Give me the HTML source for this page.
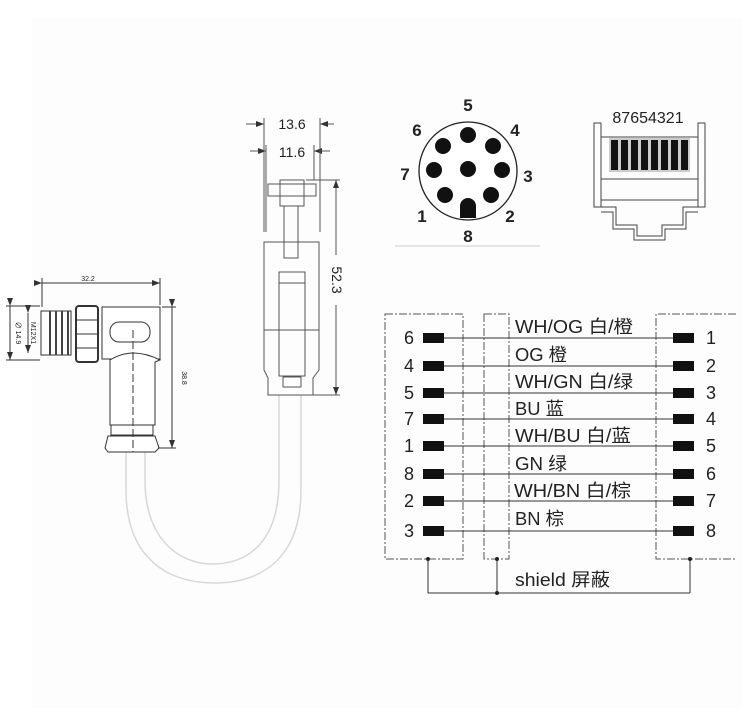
<!DOCTYPE html>
<html><head><meta charset="utf-8"><style>
html,body{margin:0;padding:0;background:#fff;}
svg{display:block;}
text{font-family:"Liberation Sans","Noto Sans CJK SC",sans-serif;fill:#222;}
</style></head><body>
<svg width="754" height="719" viewBox="0 0 754 719" xmlns="http://www.w3.org/2000/svg">
<defs>
<marker id="ar" markerWidth="8" markerHeight="6" refX="8" refY="3" orient="auto" markerUnits="userSpaceOnUse"><path d="M0 0 L8 3 L0 6 Z" fill="#333"/></marker>
</defs>
<rect x="32" y="18" width="710" height="690" fill="#fdfdfd"/>
<!-- cable loop -->
<g fill="none" stroke="#d8d8d8" stroke-width="1.5">
<path d="M126 450 L126 490 C126 560 170 583 214 583 C260 583 301 560 301 490 L301 395"/>
<path d="M145 450 L145 480 C145 540 180 564 212 564 C250 564 279 540 279 480 L279 395"/>
</g>
<!-- left connector -->
<g fill="none" stroke="#333" stroke-width="1">
<line x1="42" y1="283" x2="160" y2="283" marker-end="url(#ar)" marker-start="url(#ar)"/><line x1="42" y1="278" x2="42" y2="307"/><line x1="160" y1="278" x2="160" y2="305"/>
<rect x="41" y="311" width="30" height="44" fill="#fff"/>
<g stroke="#444" stroke-width="2"><line x1="50" y1="311" x2="50" y2="355"/><line x1="56" y1="311" x2="56" y2="355"/><line x1="62" y1="311" x2="62" y2="355"/><line x1="68" y1="311" x2="68" y2="355"/></g>
<rect x="76" y="306" width="22" height="56" rx="3" fill="#fff" stroke-width="2"/>
<line x1="76" y1="320" x2="98" y2="320"/><line x1="76" y1="334" x2="98" y2="334"/><line x1="76" y1="348" x2="98" y2="348"/>
<rect x="102" y="307" width="58" height="52" fill="#fff"/>
<rect x="110" y="322" width="40" height="20" rx="9"/>
<path d="M110 360 Q132 346 160 360 L155 362 L155 425 L110 425 Z" fill="#fff"/>
<rect x="111" y="425" width="42" height="10"/>
<path d="M108 436 L155 436 L159 448 L155 452 L108 452 L105 448 Z" fill="#fff"/>
<line x1="133" y1="330" x2="133" y2="452" stroke-dasharray="8 3"/>
<line x1="172" y1="307" x2="172" y2="448" marker-end="url(#ar)" marker-start="url(#ar)"/><line x1="162" y1="307" x2="176" y2="307"/><line x1="158" y1="448" x2="176" y2="448"/>
<line x1="10" y1="306" x2="10" y2="360" marker-end="url(#ar)" marker-start="url(#ar)"/><line x1="6" y1="306" x2="40" y2="306"/><line x1="6" y1="360" x2="40" y2="360"/>
<line x1="28" y1="313" x2="28" y2="353" marker-end="url(#ar)" marker-start="url(#ar)"/>
</g>
<text x="88" y="281" font-size="7" text-anchor="middle">32.2</text>
<text transform="translate(182,378) rotate(90)" font-size="7" text-anchor="middle">38.8</text>
<text transform="translate(16,333) rotate(90)" font-size="7" text-anchor="middle">∅ 14.9</text>
<text transform="translate(31,333) rotate(90)" font-size="7" text-anchor="middle">M12X1</text>
<!-- right connector RJ45 side view -->
<g fill="none" stroke="#555" stroke-width="1">
<line x1="246" y1="124" x2="264" y2="124" marker-end="url(#ar)"/><line x1="334" y1="124" x2="320" y2="124" marker-end="url(#ar)"/>
<line x1="250" y1="151" x2="266" y2="151" marker-end="url(#ar)"/><line x1="330" y1="151" x2="314" y2="151" marker-end="url(#ar)"/>
<line x1="264" y1="118" x2="264" y2="232"/><line x1="320" y1="118" x2="320" y2="232"/>
<line x1="266" y1="145" x2="266" y2="232"/><line x1="314" y1="145" x2="314" y2="180"/>
<rect x="268" y="184" width="48" height="12"/><rect x="280" y="180" width="24" height="26"/>
<rect x="284" y="206" width="14" height="52"/>
<path d="M266 242 L319 242 L319 370 L313 378 L313 395 L268 395 L268 378 L264 370 L264 242 Z"/>
<rect x="279" y="272" width="26" height="104"/>
<line x1="279" y1="283" x2="305" y2="283"/>
<line x1="264" y1="330" x2="319" y2="330"/>
<rect x="283" y="377" width="18" height="10"/>
<line x1="306" y1="180" x2="340" y2="180"/><line x1="310" y1="395" x2="340" y2="395"/>
<line x1="336" y1="255" x2="336" y2="180" marker-end="url(#ar)"/><line x1="336" y1="305" x2="336" y2="395" marker-end="url(#ar)"/>
</g>
<text x="292" y="129" font-size="14" text-anchor="middle">13.6</text>
<text x="292" y="157" font-size="14" text-anchor="middle">11.6</text>
<text transform="translate(332,280) rotate(90)" font-size="14" text-anchor="middle">52.3</text>
<!-- M12 face -->
<circle cx="468" cy="171" r="49" fill="#fff" stroke="#222" stroke-width="1.3"/>
<g fill="#111">
<circle cx="468" cy="135" r="8"/><circle cx="443" cy="146" r="8"/><circle cx="493" cy="146" r="8"/>
<circle cx="434" cy="170" r="8"/><circle cx="468" cy="169" r="8"/><circle cx="502" cy="170" r="8"/>
<circle cx="445" cy="195" r="8"/><circle cx="491" cy="195" r="8"/>
<path d="M460 218 L460 206 A8 8 0 0 1 476 206 L476 218 Z"/>
</g>
<g font-size="17" font-weight="bold" text-anchor="middle">
<text x="468" y="111">5</text><text x="417" y="136">6</text><text x="515" y="136">4</text>
<text x="405" y="180">7</text><text x="528" y="182">3</text>
<text x="422" y="222">1</text><text x="510" y="222">2</text><text x="468" y="242">8</text>
</g>
<line x1="395" y1="246" x2="540" y2="246" stroke="#e4e4e4" stroke-width="2"/>
<!-- RJ45 face -->
<text x="648" y="123" font-size="16" text-anchor="middle">87654321</text>
<g fill="none" stroke="#444" stroke-width="1">
<path d="M594 123 L601 123 L601 207 L594 207 Z"/><path d="M698 123 L705 123 L705 207 L698 207 Z"/>
<line x1="601" y1="137" x2="698" y2="137"/><line x1="601" y1="179" x2="698" y2="179"/><line x1="601" y1="200" x2="698" y2="200"/>
<path d="M594 207 L616 207 L616 225 L637 225 L637 236 L662 236 L662 225 L683 225 L683 207 L705 207"/>
<path d="M601 212 L613 212 L613 229 L634 229 L634 240 L665 240 L665 229 L686 229 L686 212 L698 212"/>
</g>
<rect x="609" y="138" width="81" height="34" fill="#ccc"/>
<g fill="#111">
<rect x="611" y="140" width="7" height="30"/><rect x="621" y="140" width="7" height="30"/><rect x="631" y="140" width="7" height="30"/><rect x="641" y="140" width="7" height="30"/>
<rect x="651" y="140" width="7" height="30"/><rect x="661" y="140" width="7" height="30"/><rect x="671" y="140" width="7" height="30"/><rect x="681" y="140" width="7" height="30"/>
</g>
<!-- wiring -->
<g fill="none" stroke="#555" stroke-width="1" stroke-dasharray="8 2 2 2">
<rect x="385" y="314" width="78" height="245"/>
<rect x="484" y="314" width="25" height="245"/>
<path d="M736 314 L656 314 L656 559 L736 559"/>
</g>
<g stroke="#333" stroke-width="1" fill="none">
<line x1="428" y1="559" x2="428" y2="593"/><line x1="497" y1="559" x2="497" y2="593"/><line x1="690" y1="559" x2="690" y2="593"/>
<line x1="428" y1="593" x2="690" y2="593"/>
</g>
<g fill="#222"><circle cx="428" cy="559" r="2"/><circle cx="497" cy="559" r="2"/><circle cx="690" cy="559" r="2"/><circle cx="497" cy="593" r="2"/></g>
<g stroke="#333" stroke-width="1">
<line x1="444" y1="338" x2="673" y2="338"/><line x1="444" y1="366" x2="673" y2="366"/>
<line x1="444" y1="393" x2="673" y2="393"/><line x1="444" y1="419" x2="673" y2="419"/>
<line x1="444" y1="446" x2="673" y2="446"/><line x1="444" y1="474" x2="673" y2="474"/>
<line x1="444" y1="501" x2="673" y2="501"/><line x1="444" y1="531" x2="673" y2="531"/>
</g>
<g fill="#111">
<rect x="423" y="333" width="21" height="10"/><rect x="423" y="361" width="21" height="10"/><rect x="423" y="388" width="21" height="10"/><rect x="423" y="414" width="21" height="10"/>
<rect x="423" y="441" width="21" height="10"/><rect x="423" y="469" width="21" height="10"/><rect x="423" y="496" width="21" height="10"/><rect x="423" y="526" width="21" height="10"/>
<rect x="673" y="333" width="21" height="10"/><rect x="673" y="361" width="21" height="10"/><rect x="673" y="388" width="21" height="10"/><rect x="673" y="414" width="21" height="10"/>
<rect x="673" y="441" width="21" height="10"/><rect x="673" y="469" width="21" height="10"/><rect x="673" y="496" width="21" height="10"/><rect x="673" y="526" width="21" height="10"/>
</g>
<g font-size="18" text-anchor="middle">
<text x="409" y="344">6</text><text x="409" y="372">4</text><text x="409" y="399">5</text><text x="409" y="425">7</text>
<text x="409" y="452">1</text><text x="409" y="480">8</text><text x="409" y="507">2</text><text x="409" y="537">3</text>
<text x="711" y="344">1</text><text x="711" y="372">2</text><text x="711" y="399">3</text><text x="711" y="425">4</text>
<text x="711" y="452">5</text><text x="711" y="480">6</text><text x="711" y="507">7</text><text x="711" y="537">8</text>
</g>
<g font-size="18">
<text x="515" y="333" textLength="118" lengthAdjust="spacingAndGlyphs">WH/OG 白/橙</text>
<text x="515" y="361" textLength="52" lengthAdjust="spacingAndGlyphs">OG 橙</text>
<text x="515" y="388" textLength="118" lengthAdjust="spacingAndGlyphs">WH/GN 白/绿</text>
<text x="515" y="415" textLength="49" lengthAdjust="spacingAndGlyphs">BU 蓝</text>
<text x="515" y="442" textLength="116" lengthAdjust="spacingAndGlyphs">WH/BU 白/蓝</text>
<text x="515" y="470" textLength="52" lengthAdjust="spacingAndGlyphs">GN 绿</text>
<text x="514" y="497" textLength="117" lengthAdjust="spacingAndGlyphs">WH/BN 白/棕</text>
<text x="515" y="525" textLength="49" lengthAdjust="spacingAndGlyphs">BN 棕</text>
<text x="515" y="586" textLength="95" lengthAdjust="spacingAndGlyphs">shield 屏蔽</text>
</g>
</svg>
</body></html>
